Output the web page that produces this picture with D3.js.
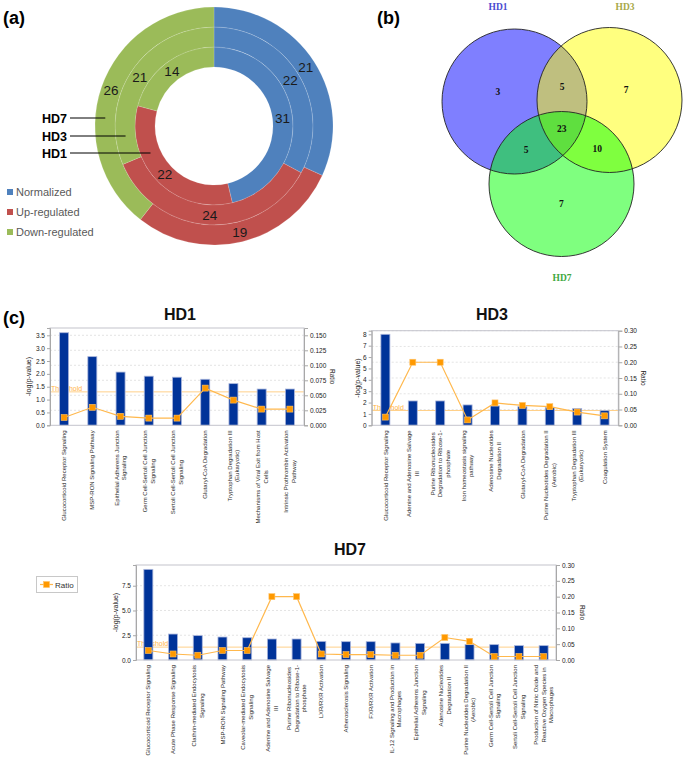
<!DOCTYPE html>
<html><head><meta charset="utf-8">
<script src="https://cdn.jsdelivr.net/npm/d3@7"></script>
<style>body{margin:0;background:#fff} svg{display:block}</style>
</head><body><svg id="c" width="685" height="764"></svg>
<script>
// ---------------- DATA ----------------
// Panel (a): doughnut, rings HD1 (inner) -> HD7 (outer)
const ringNames = ["HD1", "HD3", "HD7"];
const statusNames = ["Normalized", "Up-regulated", "Down-regulated"];
const hd1Status = [31, 22, 14];
const hd3Status = [22, 24, 21];
const hd7Status = [21, 19, 26];

// Panel (b): Venn
const vennNames = ["HD1", "HD3", "HD7"];
const vennOnly = [3, 7, 7];          // HD1 only, HD3 only, HD7 only
const vennPairs = [5, 10, 5];        // HD1&HD3, HD3&HD7, HD7&HD1
const vennAll = 23;

// Panel (c): canonical pathways
const threshold = 1.3;

const hd1Paths = ["Glucocorticoid Receptor Signaling", "MSP-RON Signaling Pathway",
  "Epithelial Adherens Junction\nSignaling", "Germ Cell-Sertoli Cell Junction\nSignaling",
  "Sertoli Cell-Sertoli Cell Junction\nSignaling", "Glutaryl-CoA Degradation",
  "Tryptophan Degradation III\n(Eukaryotic)", "Mechanisms of Viral Exit from Host\nCells",
  "Intrinsic Prothrombin Activation\nPathway"];
const hd1LogP = [3.60, 2.67, 2.07, 1.91, 1.87, 1.79, 1.62, 1.41, 1.41];
const hd1Ratio = [0.013, 0.030, 0.015, 0.012, 0.012, 0.062, 0.042, 0.027, 0.027];
const hd1LeftTicks = [0, 0.5, 1, 1.5, 2, 2.5, 3, 3.5];
const hd1RightTicks = [0, 0.025, 0.05, 0.075, 0.1, 0.125, 0.15];

const hd3Paths = ["Glucocorticoid Receptor Signaling", "Adenine and Adenosine Salvage\nIII",
  "Purine Ribonucleosides\nDegradation to Ribose-1-\nphosphate", "Iron homeostasis signaling\npathway",
  "Adenosine Nucleotides\nDegradation II", "Glutaryl-CoA Degradation",
  "Purine Nucleotides Degradation II\n(Aerobic)", "Tryptophan Degradation III\n(Eukaryotic)",
  "Coagulation System"];
const hd3LogP = [8.0, 2.14, 2.14, 1.79, 1.70, 1.64, 1.58, 1.47, 1.29];
const hd3Ratio = [0.026, 0.20, 0.20, 0.017, 0.071, 0.063, 0.059, 0.042, 0.030];
const hd3LeftTicks = [0, 1, 2, 3, 4, 5, 6, 7, 8];
const hd3RightTicks = [0, 0.05, 0.1, 0.15, 0.2, 0.25, 0.3];

const hd7Paths = ["Glucocorticoid Receptor Signaling", "Acute Phase Response Signaling",
  "Clathrin-mediated Endocytosis\nSignaling", "MSP-RON Signaling Pathway",
  "Caveolar-mediated Endocytosis\nSignaling", "Adenine and Adenosine Salvage\nIII",
  "Purine Ribonucleosides\nDegradation to Ribose-1-\nphosphate", "LXR/RXR Activation",
  "Atherosclerosis Signaling", "FXR/RXR Activation",
  "IL-12 Signaling and Production in\nMacrophages", "Epithelial Adherens Junction\nSignaling",
  "Adenosine Nucleotides\nDegradation II", "Purine Nucleotides Degradation II\n(Aerobic)",
  "Germ Cell-Sertoli Cell Junction\nSignaling", "Sertoli Cell-Sertoli Cell Junction\nSignaling",
  "Production of Nitric Oxide and\nReactive Oxygen Species in\nMacrophages"];
const hd7LogP = [9.15, 2.62, 2.46, 2.32, 2.25, 2.12, 2.12, 1.88, 1.85, 1.85, 1.72, 1.68, 1.68, 1.55, 1.55, 1.45, 1.45];
const hd7Ratio = [0.030, 0.019, 0.015, 0.030, 0.030, 0.20, 0.20, 0.019, 0.017, 0.017, 0.015, 0.015, 0.071, 0.059, 0.011, 0.011, 0.011];
const hd7LeftTicks = [0, 2.5, 5, 7.5];
const hd7RightTicks = [0, 0.05, 0.1, 0.15, 0.2, 0.25, 0.3];

// ---------------- DRAW ----------------
const svg = d3.select("#c");
const SANS = "'Liberation Sans', Arial, sans-serif";

function panelLetter(t, x, y) {
  svg.append("text").attr("x", x).attr("y", y).text(t)
    .attr("font-family", SANS).attr("font-weight", "bold").attr("font-size", 18).attr("fill", "#000");
}
panelLetter("(a)", 3, 24);
panelLetter("(b)", 377, 24);
panelLetter("(c)", 3, 324);

// ----- Panel (a) -----
(function () {
  const cx = 214, cy = 126;
  const radii = [59, 79, 99, 119];
  const colors = ["#4F81BD", "#C0504D", "#9BBB59"];
  const ringData = [hd1Status, hd3Status, hd7Status];
  const color = d3.scaleOrdinal().domain(statusNames).range(colors);
  const pie = d3.pie().sort(null).value(d => d.v);
  const g = svg.append("g").attr("transform", `translate(${cx},${cy})`);
  ringData.forEach((vals, ri) => {
    const arc = d3.arc().innerRadius(radii[ri]).outerRadius(radii[ri + 1]);
    const arcs = pie(vals.map((v, i) => ({ v, s: statusNames[i] })));
    g.selectAll(null).data(arcs).enter().append("path")
      .attr("d", arc).attr("fill", d => color(d.data.s))
      .attr("stroke", "#fff").attr("stroke-opacity", 0.25).attr("stroke-width", 0.6);
    g.selectAll(null).data(arcs).enter().append("text")
      .attr("transform", d => `translate(${arc.centroid(d)})`)
      .attr("text-anchor", "middle").attr("dy", "0.36em")
      .attr("font-family", SANS).attr("font-size", 13.5).attr("fill", "#1a1a1a")
      .text(d => d.data.v);
  });
  // ring name labels with leader lines
  const labelYs = [153, 136, 118];
  ringNames.forEach((n, ri) => {
    const ly = labelYs[ri];
    const rm = (radii[ri] + radii[ri + 1]) / 2;
    const dy = ly - cy;
    const ex = cx - Math.sqrt(rm * rm - dy * dy);
    svg.append("line").attr("x1", 70).attr("x2", ex).attr("y1", ly).attr("y2", ly)
      .attr("stroke", "#000").attr("stroke-width", 1);
    svg.append("text").attr("x", 67).attr("y", ly + 5).attr("text-anchor", "end")
      .attr("font-family", SANS).attr("font-weight", "bold").attr("font-size", 12.5).attr("fill", "#000").text(n);
  });
  // legend
  statusNames.forEach((s, i) => {
    const y = 192 + i * 20;
    svg.append("rect").attr("x", 7).attr("y", y - 3).attr("width", 6).attr("height", 6).attr("fill", color(s));
    svg.append("text").attr("x", 16).attr("y", y + 4).text(s)
      .attr("font-family", SANS).attr("font-size", 11).attr("fill", "#595959");
  });
})();

// ----- Panel (b) -----
(function () {
  const r = 72.5;
  const centers = [[514.5, 101.5], [609.5, 100], [561.5, 184]];
  const fills = ["#0000FF", "#FFFF00", "#00FF00"];
  const nameColors = ["#4a4ad0", "#a8a848", "#3fa83f"];
  const g = svg.append("g");
  centers.forEach((c, i) => {
    g.append("circle").attr("cx", c[0]).attr("cy", c[1]).attr("r", r)
      .attr("fill", fills[i]).attr("fill-opacity", 0.5);
  });
  centers.forEach((c) => {
    g.append("circle").attr("cx", c[0]).attr("cy", c[1]).attr("r", r)
      .attr("fill", "none").attr("stroke", "#222").attr("stroke-width", 0.9);
  });
  const G = [d3.mean(centers, c => c[0]), d3.mean(centers, c => c[1])];
  const SERIF = "'Liberation Serif', 'Times New Roman', serif";
  function num(p, t) {
    g.append("text").attr("x", p[0]).attr("y", p[1]).attr("dy", "0.35em").attr("text-anchor", "middle")
      .attr("font-family", SERIF).attr("font-weight", "bold").attr("font-size", 9.5).attr("fill", "#111").text(t);
  }
  vennOnly.forEach((v, i) => {
    const c = centers[i];
    num([c[0] + 0.35 * (c[0] - G[0]), c[1] + 0.35 * (c[1] - G[1])], v);
  });
  const pairIdx = [[0, 1], [1, 2], [2, 0]];
  vennPairs.forEach((v, k) => {
    const a = centers[pairIdx[k][0]], b = centers[pairIdx[k][1]];
    const m = [(a[0] + b[0]) / 2, (a[1] + b[1]) / 2];
    num([G[0] + 1.5 * (m[0] - G[0]), G[1] + 1.5 * (m[1] - G[1])], v);
  });
  num(G, vennAll);
  const namePos = [[498, 10], [625, 10], [562, 281]];
  vennNames.forEach((n, i) => {
    g.append("text").attr("x", namePos[i][0]).attr("y", namePos[i][1]).attr("text-anchor", "middle")
      .attr("font-family", SERIF).attr("font-weight", "bold").attr("font-size", 9.5)
      .attr("fill", nameColors[i]).text(n);
  });
})();

// ----- Panel (c) -----
function barLineChart(cfg) {
  const g = svg.append("g");
  const x = d3.scaleBand().domain(cfg.cats).range([cfg.x0, cfg.x1]);
  const yL = d3.scaleLinear().domain([0, cfg.lmax]).range([cfg.base, cfg.top]);
  const yR = d3.scaleLinear().domain([0, cfg.rmax]).range([cfg.base, cfg.top]);
  const gs = cfg.grid === "left" ? yL : yR;
  const gt = cfg.grid === "left" ? cfg.lticks : cfg.rticks;
  g.selectAll(null).data(gt.filter(d => d > 0)).enter().append("line")
    .attr("x1", cfg.x0).attr("x2", cfg.x1).attr("y1", d => gs(d)).attr("y2", d => gs(d))
    .attr("stroke", "#d8d8d8").attr("stroke-width", 0.7).attr("stroke-dasharray", "2,2");
  g.append("line").attr("x1", cfg.x0).attr("x2", cfg.x1)
    .attr("y1", yL(threshold)).attr("y2", yL(threshold))
    .attr("stroke", "#FFD08A").attr("stroke-width", 1);
  g.append("text").attr("x", cfg.x0 + 1).attr("y", yL(threshold) - 1).text("Threshold")
    .attr("font-family", SANS).attr("font-size", 7).attr("fill", "#FFB347");
  const bw = 9;
  g.selectAll(null).data(cfg.cats).enter().append("rect")
    .attr("x", d => x(d) + x.bandwidth() / 2 - bw / 2)
    .attr("y", (d, i) => yL(cfg.logp[i]))
    .attr("width", bw)
    .attr("height", (d, i) => cfg.base - yL(cfg.logp[i]))
    .attr("fill", "#003399").attr("stroke", "#aab6dc").attr("stroke-width", 0.8);
  g.append("rect").attr("x", cfg.x0).attr("y", cfg.top).attr("width", cfg.x1 - cfg.x0).attr("height", cfg.base - cfg.top)
    .attr("fill", "none").attr("stroke", "#c4c4cc").attr("stroke-width", 1);
  const line = d3.line().x((d, i) => x(cfg.cats[i]) + x.bandwidth() / 2).y(d => yR(d));
  g.append("path").datum(cfg.ratio).attr("d", line).attr("fill", "none")
    .attr("stroke", "#FFB84D").attr("stroke-width", 1.2);
  g.selectAll(null).data(cfg.ratio).enter().append("rect")
    .attr("x", (d, i) => x(cfg.cats[i]) + x.bandwidth() / 2 - 3)
    .attr("y", d => yR(d) - 3).attr("width", 6).attr("height", 6)
    .attr("fill", "#FF9900").attr("stroke", "#FFC266").attr("stroke-width", 0.6);
  const la = g.append("g").attr("transform", `translate(${cfg.x0},0)`)
    .call(d3.axisLeft(yL).tickValues(cfg.lticks).tickFormat(d3.format(cfg.lfmt)).tickSize(3).tickPadding(2));
  const ra = g.append("g").attr("transform", `translate(${cfg.x1},0)`)
    .call(d3.axisRight(yR).tickValues(cfg.rticks).tickFormat(d3.format(cfg.rfmt)).tickSize(4).tickPadding(2));
  [la, ra].forEach(a => {
    a.select(".domain").attr("stroke", "#a8a8a8");
    a.selectAll(".tick line").attr("stroke", "#a8a8a8");
    a.selectAll(".tick text").attr("font-family", SANS).attr("font-size", 6.5).attr("fill", "#222");
  });
  g.append("text").attr("transform", `translate(${cfg.x0 - cfg.ltOff},${(cfg.top + cfg.base) / 2}) rotate(-90)`)
    .attr("text-anchor", "middle").attr("font-family", SANS).attr("font-size", 7).attr("fill", "#222").text("-log(p-value)");
  g.append("text").attr("transform", `translate(${cfg.x1 + cfg.rtOff},${(cfg.top + cfg.base) / 2}) rotate(90)`)
    .attr("text-anchor", "middle").attr("font-family", SANS).attr("font-size", 6.5).attr("fill", "#222").text("Ratio");
  cfg.cats.forEach((c) => {
    const lines = c.split("\n");
    const lg = g.append("g").attr("transform", `translate(${x(c) + x.bandwidth() / 2},${cfg.base + 5}) rotate(-90)`);
    const n = lines.length, lh = 7.6;
    const ts = lines.map((t, i) => lg.append("text").text(t)
      .attr("text-anchor", "middle").attr("y", (i - (n - 1) / 2) * lh).attr("dy", "0.35em")
      .attr("font-family", SANS).attr("font-size", 6).attr("fill", "#2a2a2a"));
    const mw = d3.max(ts, t => t.node().getComputedTextLength());
    ts.forEach(t => t.attr("x", -mw / 2));
  });
  svg.append("text").attr("x", cfg.tx).attr("y", cfg.ty).attr("text-anchor", "middle")
    .attr("font-family", SANS).attr("font-weight", "bold").attr("font-size", 16).attr("fill", "#111").text(cfg.title);
  return { x, yL, yR };
}

barLineChart({ title: "HD1", tx: 180, ty: 320, cats: hd1Paths, logp: hd1LogP, ratio: hd1Ratio,
  x0: 50, x1: 304, top: 328, base: 425.3, lmax: 3.5 * 97.3 / 90, rmax: 0.15 * 97.3 / 90,
  lticks: hd1LeftTicks, rticks: hd1RightTicks, lfmt: ".1f", rfmt: ".3f", grid: "right", ltOff: 19, rtOff: 26 });

barLineChart({ title: "HD3", tx: 492, ty: 320, cats: hd3Paths, logp: hd3LogP, ratio: hd3Ratio,
  x0: 371.7, x1: 618.3, top: 330.7, base: 425.3, lmax: 8 * 94.6 / 91, rmax: 0.30,
  lticks: hd3LeftTicks, rticks: hd3RightTicks, lfmt: "d", rfmt: ".2f", grid: "right", ltOff: 12, rtOff: 23 });

barLineChart({ title: "HD7", tx: 350, ty: 555, cats: hd7Paths, logp: hd7LogP, ratio: hd7Ratio,
  x0: 136, x1: 556, top: 565, base: 660, lmax: 9.59, rmax: 0.30,
  lticks: hd7LeftTicks, rticks: hd7RightTicks, lfmt: ".1f", rfmt: ".2f", grid: "left", ltOff: 18, rtOff: 24 });

// HD7 legend
(function () {
  const g = svg.append("g");
  g.append("rect").attr("x", 36.5).attr("y", 576.5).attr("width", 41).attr("height", 16)
    .attr("fill", "#fff").attr("stroke", "#c8c8c8").attr("stroke-width", 1);
  g.append("line").attr("x1", 40).attr("x2", 53).attr("y1", 584.5).attr("y2", 584.5)
    .attr("stroke", "#FFB84D").attr("stroke-width", 1.2);
  g.append("rect").attr("x", 43.5).attr("y", 581.5).attr("width", 6).attr("height", 6)
    .attr("fill", "#FF9900").attr("stroke", "#FFC266").attr("stroke-width", 0.6);
  g.append("text").attr("x", 55).attr("y", 587.5).text("Ratio")
    .attr("font-family", SANS).attr("font-size", 8).attr("fill", "#333");
})();
</script></body></html>
